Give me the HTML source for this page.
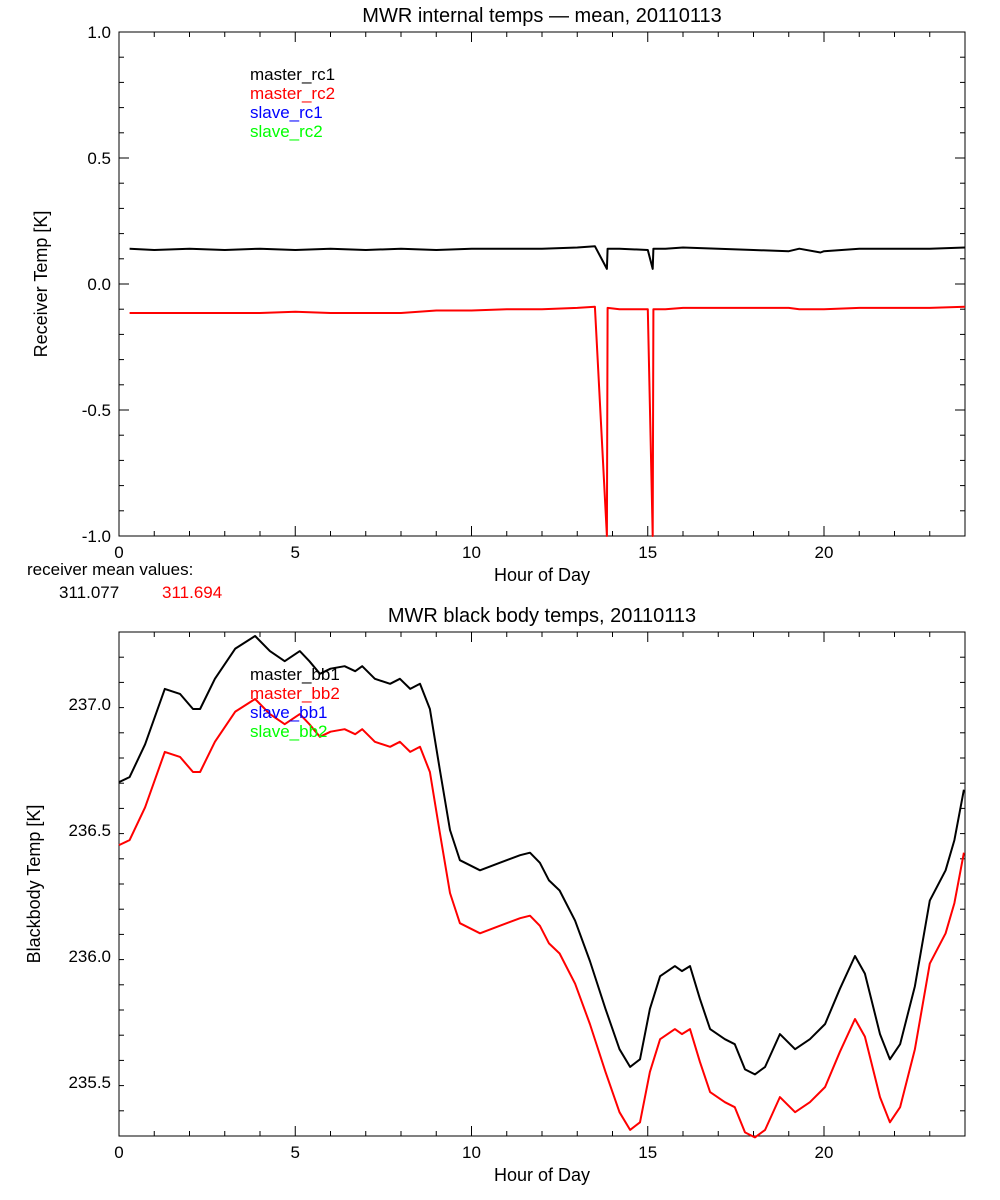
<!DOCTYPE html>
<html><head><meta charset="utf-8"><style>
body{margin:0;background:#fff}
svg{display:block;font-family:"Liberation Sans",sans-serif}
</style></head><body>
<svg id="c" width="1000" height="1200" xmlns="http://www.w3.org/2000/svg"></svg>
<script>
// ---- data ----
const rcHours=[0.3,1,2,3,4,5,6,7,8,9,10,11,12,13,13.5,13.84,13.86,14.2,15,15.14,15.16,15.5,16,17,18,19,19.3,19.9,20,21,22,23,24];
const rc1=[0.14,0.135,0.14,0.135,0.14,0.135,0.14,0.135,0.14,0.135,0.14,0.14,0.14,0.145,0.15,0.06,0.14,0.14,0.135,0.06,0.14,0.14,0.145,0.14,0.135,0.13,0.14,0.125,0.13,0.14,0.14,0.14,0.145];
const rc2=[-0.115,-0.115,-0.115,-0.115,-0.115,-0.11,-0.115,-0.115,-0.115,-0.105,-0.105,-0.1,-0.1,-0.095,-0.09,-1.0,-0.095,-0.1,-0.1,-1.0,-0.1,-0.1,-0.095,-0.095,-0.095,-0.095,-0.1,-0.1,-0.1,-0.095,-0.095,-0.095,-0.09];
const bbHours=[0,0.3,0.74,1.3,1.73,2.1,2.3,2.72,3.3,3.86,4.28,4.7,5.13,5.4,5.7,6.0,6.4,6.7,6.9,7.26,7.69,7.97,8.26,8.54,8.82,9.1,9.39,9.67,10.24,10.8,11.38,11.66,11.94,12.2,12.5,12.94,13.36,13.8,14.2,14.5,14.78,15.06,15.35,15.77,15.97,16.2,16.48,16.77,17.19,17.47,17.76,18.04,18.33,18.75,19.18,19.6,20.03,20.45,20.88,21.16,21.59,21.87,22.16,22.58,23.0,23.45,23.7,23.97];
const bb1=[236.69,236.71,236.84,237.06,237.04,236.98,236.98,237.10,237.22,237.27,237.21,237.17,237.21,237.17,237.12,237.14,237.15,237.13,237.15,237.10,237.08,237.10,237.06,237.08,236.98,236.74,236.5,236.38,236.34,236.37,236.40,236.41,236.37,236.30,236.26,236.14,235.98,235.79,235.63,235.56,235.59,235.79,235.92,235.96,235.94,235.96,235.83,235.71,235.67,235.65,235.55,235.53,235.56,235.69,235.63,235.67,235.73,235.87,236.0,235.93,235.69,235.59,235.65,235.88,236.22,236.34,236.46,236.66];
const bb2=[236.44,236.46,236.59,236.81,236.79,236.73,236.73,236.85,236.97,237.02,236.96,236.92,236.96,236.92,236.87,236.89,236.9,236.88,236.9,236.85,236.83,236.85,236.81,236.83,236.73,236.49,236.25,236.13,236.09,236.12,236.15,236.16,236.12,236.05,236.01,235.89,235.73,235.54,235.38,235.31,235.34,235.54,235.67,235.71,235.69,235.71,235.58,235.46,235.42,235.4,235.3,235.28,235.31,235.44,235.38,235.42,235.48,235.62,235.75,235.68,235.44,235.34,235.4,235.63,235.97,236.09,236.21,236.41];
const xTicks=[0,5,10,15,20];
const rcTicks=[1.0,0.5,0.0,-0.5,-1.0];
const bbTicks=[237.0,236.5,236.0,235.5];
// ---- drawing ----
const svg=document.getElementById('c');const NS='http://www.w3.org/2000/svg';
function el(t,a,txt){const e=document.createElementNS(NS,t);for(const k in a)e.setAttribute(k,a[k]);if(txt!==undefined)e.textContent=txt;svg.appendChild(e);return e;}
const X0=119,X1=965;
const xs=h=>X0+(h/24)*(X1-X0);
function panel(name,top,bot,ymin,ymax,yTicks,yMinorStep,ylabel,title,series,legend,legY){
  const ys=v=>bot-(v-ymin)/(ymax-ymin)*(bot-top);
  let f=el('rect',{x:X0,y:top,width:X1-X0,height:bot-top,fill:'none',stroke:'#000','stroke-width':1});
  
  for(let h=0;h<=24;h++){const mj=h%5===0,L=mj?10:5;
    el('line',{x1:xs(h),x2:xs(h),y1:bot,y2:bot-L,stroke:'#000'});el('line',{x1:xs(h),x2:xs(h),y1:top,y2:top+L,stroke:'#000'});}
  for(const t of xTicks){let e=el('text',{x:xs(t),y:bot+22,'font-size':17,'text-anchor':'middle'},t);
    }
  for(let v=ymin;v<=ymax+1e-9;v+=yMinorStep){const y=ys(v);
    const mj=yTicks.some(t=>Math.abs(t-v)<1e-6),L=mj?10:5;
    el('line',{x1:X0,x2:X0+L,y1:y,y2:y,stroke:'#000'});el('line',{x1:X1,x2:X1-L,y1:y,y2:y,stroke:'#000'});}
  for(const t of yTicks){let e=el('text',{x:X0-8,y:ys(t)+6,'font-size':17,'text-anchor':'end'},t.toFixed(1));
    }
  let xl=el('text',{x:542,y:bot+45,'font-size':18,'text-anchor':'middle'},'Hour of Day');
  
  const cy=(top+bot)/2;
  let yl=el('text',{x:0,y:0,'font-size':18,'text-anchor':'middle',transform:`translate(${name==='top'?47:40},${cy}) rotate(-90)`},ylabel);
  
  let tt=el('text',{x:542,y:top-10,'font-size':20,'text-anchor':'middle'},title);
  
  for(const s of series){const d=s.v.map((v,i)=>(i?'L':'M')+xs(s.h[i]).toFixed(1)+','+ys(v).toFixed(1)).join('');
    let p=el('path',{d:d,fill:'none',stroke:s.c,'stroke-width':2,'stroke-linejoin':'round'});
    }
  legend.forEach((l,i)=>{let e=el('text',{x:250,y:legY+i*19,'font-size':17,fill:l[1]},l[0]);
    });
}
panel('top',32,536,-1,1,rcTicks,0.1,'Receiver Temp [K]','MWR internal temps \u2014 mean, 20110113',
  [{n:'master-rc1',h:rcHours,v:rc1,c:'#000'},{n:'master-rc2',h:rcHours,v:rc2,c:'#f00'}],
  [['master_rc1','#000'],['master_rc2','#f00'],['slave_rc1','#00f'],['slave_rc2','#0f0']],80);
panel('bottom',632,1136,235.2857,237.2857,bbTicks,0.1,'Blackbody Temp [K]','MWR black body temps, 20110113',
  [{n:'master-bb1',h:bbHours,v:bb1,c:'#000'},{n:'master-bb2',h:bbHours,v:bb2,c:'#f00'}],
  [['master_bb1','#000'],['master_bb2','#f00'],['slave_bb1','#00f'],['slave_bb2','#0f0']],680);
let m=el('text',{x:27,y:575,'font-size':17},'receiver mean values:');

let m1=el('text',{x:59,y:598,'font-size':17},'311.077');

let m2=el('text',{x:162,y:598,'font-size':17,fill:'#f00'},'311.694');

</script>
</body></html>
